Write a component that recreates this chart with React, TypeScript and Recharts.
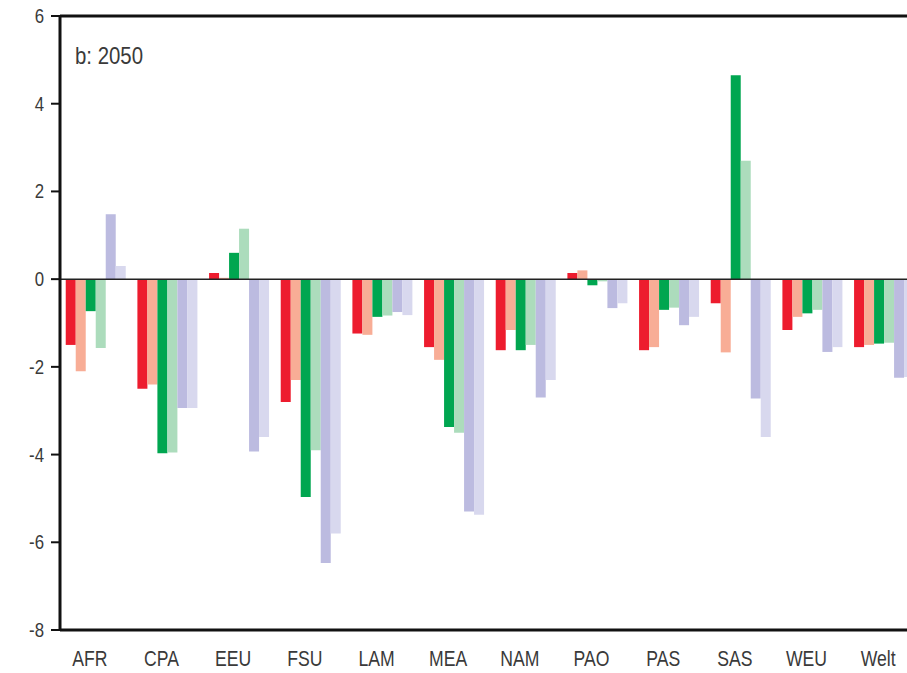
import { BarChart, Bar, XAxis, YAxis, ReferenceLine } from 'recharts';

const REGIONS = ['AFR', 'CPA', 'EEU', 'FSU', 'LAM', 'MEA', 'NAM', 'PAO', 'PAS', 'SAS', 'WEU', 'Welt'];
const RED = [-1.5, -2.5, 0.14, -2.8, -1.24, -1.55, -1.62, 0.14, -1.62, -0.55, -1.16, -1.55];
const RED_LIGHT = [-2.1, -2.4, 0.03, -2.3, -1.27, -1.84, -1.16, 0.2, -1.55, -1.67, -0.86, -1.5];
const GREEN = [-0.73, -3.97, 0.6, -4.97, -0.86, -3.37, -1.62, -0.14, -0.7, 4.65, -0.78, -1.47];
const GREEN_LIGHT = [-1.57, -3.95, 1.15, -3.9, -0.83, -3.5, -1.5, -0.05, -0.65, 2.7, -0.7, -1.45];
const BLUE = [1.48, -2.94, -3.93, -6.47, -0.75, -5.3, -2.7, -0.66, -1.05, -2.72, -1.66, -2.25];
const BLUE_LIGHT = [0.3, -2.94, -3.6, -5.8, -0.82, -5.37, -2.3, -0.55, -0.86, -3.6, -1.55, -2.23];
const Y_TICKS = [-8, -6, -4, -2, 0, 2, 4, 6];

const SERIES = [
  { key: 'red', fill: '#ed1c2e' },
  { key: 'redLight', fill: '#f8ad96' },
  { key: 'green', fill: '#00a650' },
  { key: 'greenLight', fill: '#acdcbc' },
  { key: 'blue', fill: '#bcbbe0' },
  { key: 'blueLight', fill: '#d8d8ee' },
];

const data = REGIONS.map((r, i) => ({
  region: r,
  red: RED[i],
  redLight: RED_LIGHT[i],
  green: GREEN[i],
  greenLight: GREEN_LIGHT[i],
  blue: BLUE[i],
  blueLight: BLUE_LIGHT[i],
}));

const FONT = '"Liberation Sans", Arial, sans-serif';

// narrow-looking labels, like the original print
const XTick = ({ x, y, payload }: any) => (
  <g transform={`translate(${x - 6},${y})`}>
    <text transform="scale(0.8,1)" textAnchor="middle" dy={30} fontSize={22} fill="#3a3a3a" fontFamily={FONT}>
      {payload.value}
    </text>
  </g>
);

const YTick = ({ x, y, payload }: any) => (
  <g transform={`translate(${x - 3},${y})`}>
    <text transform="scale(0.8,1)" textAnchor="end" dy={7} fontSize={21} fill="#3a3a3a" fontFamily={FONT}>
      {payload.value}
    </text>
  </g>
);

export default function App() {
  return (
    <div
      style={{
        position: 'fixed',
        left: 0,
        top: 0,
        width: 907,
        height: 673,
        overflow: 'hidden',
        background: '#fff',
        fontFamily: FONT,
      }}
    >
      <BarChart
        width={930}
        height={673}
        data={data}
        margin={{ top: 16, right: 10, bottom: 3, left: 8 }}
        barCategoryGap="8%"
        barGap={0}
      >
        <XAxis
          dataKey="region"
          height={40}
          tickLine={false}
          axisLine={{ stroke: '#111', strokeWidth: 3 }}
          tickMargin={0}
          tick={<XTick />}
          interval={0}
        />
        <YAxis
          domain={[-8, 6]}
          ticks={Y_TICKS}
          width={52}
          tickSize={9}
          tickMargin={4}
          axisLine={{ stroke: '#111', strokeWidth: 3 }}
          tickLine={{ stroke: '#111', strokeWidth: 2 }}
          tick={<YTick />}
          allowDataOverflow
        />
        <ReferenceLine y={6} stroke="#111" strokeWidth={3} />
        {SERIES.map((s) => (
          <Bar key={s.key} dataKey={s.key} fill={s.fill} isAnimationActive={false} />
        ))}
        <ReferenceLine y={0} stroke="#222" strokeWidth={1.5} />
      </BarChart>
      <div
        style={{
          position: 'absolute',
          left: 75,
          top: 42,
          fontSize: 24,
          color: '#3a3a3a',
          transform: 'scaleX(0.85)',
          transformOrigin: 'left top',
        }}
      >
        b: 2050
      </div>
    </div>
  );
}
